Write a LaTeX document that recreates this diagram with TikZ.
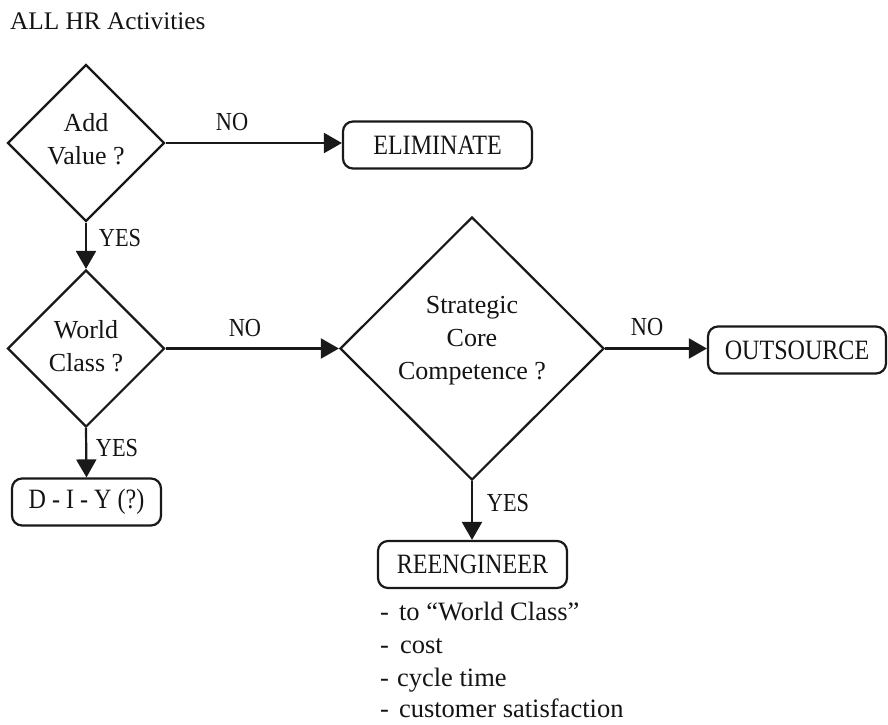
\documentclass[tikz,border=0pt]{standalone}
\usepackage{fontspec}
\setmainfont{Liberation Serif}
\newfontfamily\condfont{Liberation Serif}[FakeStretch=0.86]
\usetikzlibrary{shapes.geometric,arrows.meta}
\begin{document}
\begin{tikzpicture}[x=1pt,y=-1pt,
  every node/.style={font=\fontsize{26}{33}\selectfont, inner sep=0pt, text=black!92},
  decision/.style={draw=black!90, shape=diamond, line width=2.2pt, minimum width=#1, minimum height=#1},
  decision/.default=157pt,
  stepbox/.style={draw=black!90, rectangle, rounded corners=10pt, line width=2.2pt, minimum height=47pt,
    font=\condfont\fontsize{28}{33}\selectfont},
  conn/.style={draw=black!90, line width=2.2pt, -{Triangle[length=18pt,width=20pt]}},
  lbl/.style={font=\condfont\fontsize{26}{30}\selectfont},
  txt/.style={align=center},
  item/.style={anchor=base west, font=\fontsize{26.5}{30}\selectfont}
]
\useasboundingbox (0,0) rectangle (888,724);

% title
\node[anchor=base west, font=\fontsize{25.3}{30}\selectfont] (title) at (10,29) {ALL HR Activities};

% decisions
\node[decision] (d1) at (86,143) {};
\node[txt] (t1) at (86,139) {Add\\Value ?};
\node[decision] (d2) at (86,348.5) {};
\node[txt] (t2) at (86,346) {World\\Class ?};
\node[draw=black!90, shape=diamond, line width=2.2pt, minimum width=264pt, minimum height=263pt] (d3) at (472,348.5) {};
\node[txt] (t3) at (472,341) {Strategic\\Core\\Competence ?};

% boxes
\node[stepbox, minimum width=189pt] (elim) at (437.5,145) {ELIMINATE};
\node[stepbox, minimum width=178pt] (out) at (797,350) {OUTSOURCE};
\node[stepbox, minimum width=149pt] (diy) at (86.5,502) {D - I - Y (?)};
\node[stepbox, minimum width=189pt] (reeng) at (472.5,564.5) {REENGINEER};

% connectors
\draw[conn] (d1.east) -- (d1.east -| elim.west);
\draw[conn] (d1.south) -- (d2.north);
\draw[conn] (d2.east) -- (d3.west);
\draw[conn] (d2.south) -- (diy.north);
\draw[conn] (d3.east) -- (d3.east -| out.west);
\draw[conn] (d3.south) -- (d3.south |- reeng.north);

% connector labels
\node[lbl] (no1) at (232,122) {NO};
\node[lbl] (yes1) at (120,238) {YES};
\node[lbl] (no2) at (245,328) {NO};
\node[lbl] (yes2) at (117,448) {YES};
\node[lbl] (no3) at (647,327) {NO};
\node[lbl] (yes3) at (508,503) {YES};

% list
\node[item] (l1) at (380,620) {-\hspace{10pt}to “World Class”};
\node[item] (l2) at (380,653) {-\hspace{11pt}cost};
\node[item] (l3) at (380,686) {-\hspace{8pt}cycle time};
\node[item] (l4) at (380,717) {-\hspace{10pt}customer satisfaction};
\end{tikzpicture}
\end{document}
